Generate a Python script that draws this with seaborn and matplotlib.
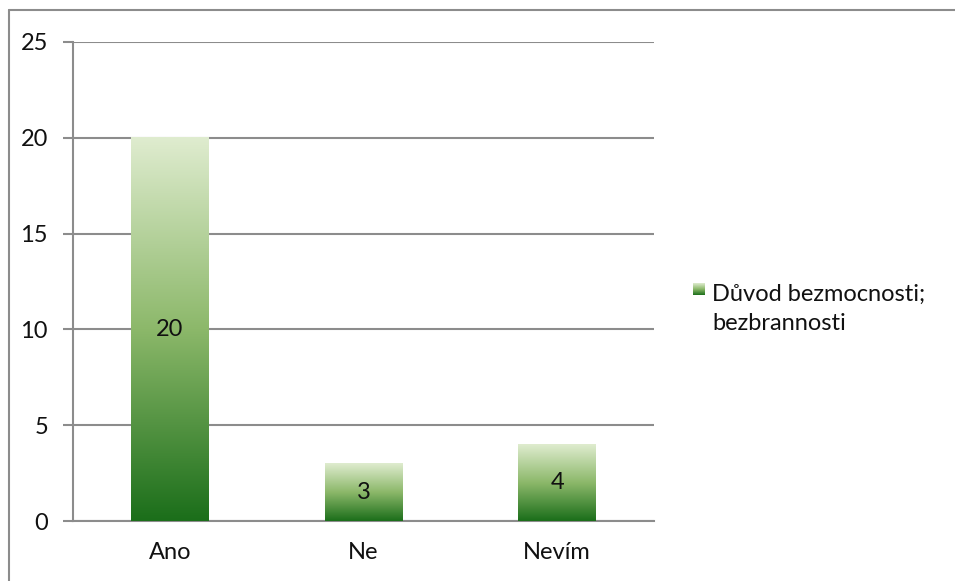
import numpy as np
import pandas as pd
import matplotlib
matplotlib.use("Agg")
import matplotlib.pyplot as plt
import seaborn as sns
from matplotlib.colors import LinearSegmentedColormap
from matplotlib.lines import Line2D

categories = ["Ano", "Ne", "Nevím"]
values = [20, 3, 4]
series_name = "Důvod bezmocnosti;\nbezbrannosti"
yticks = [0, 5, 10, 15, 20, 25]

sns.set_theme(style="white")
plt.rcParams['font.family'] = ['Lato', 'DejaVu Sans']

FS = 17
W, H = 955, 581
fig = plt.figure(figsize=(W / 100, H / 100), dpi=100)
ax = fig.add_axes([73 / W, 1 - 521 / H, (654 - 73) / W, (521 - 42) / H])

df = pd.DataFrame({"cat": categories, "val": values})
sns.barplot(data=df, x="cat", y="val", ax=ax, width=0.4, color="#4a8a3a")

cmap = LinearSegmentedColormap.from_list(
    "g", [(0.0, "#1b6e1a"), (0.5, "#8cb86a"), (1.0, "#dfeccf")])
grad = np.linspace(0, 1, 256).reshape(-1, 1)

ax.set_ylim(0, 25)
ax.set_xlim(-0.5, 2.5)
for p in ax.patches:
    x0, y0 = p.get_x(), p.get_y()
    w, h = p.get_width(), p.get_height()
    p.set_visible(False)
    ax.imshow(grad, cmap=cmap, origin="lower", aspect="auto",
              extent=[x0, x0 + w, y0, y0 + h], zorder=3, interpolation="bilinear")
    ax.text(x0 + w / 2, h / 2, f"{int(h)}", ha="center", va="center",
            fontsize=FS, color="#111111", zorder=4)
ax.set_ylim(0, 25)
ax.set_xlim(-0.5, 2.5)

gc = "#8c8c8c"
ax.set_yticks(yticks)
ax.set_yticklabels([str(t) for t in yticks], fontsize=FS, color="#111111")
ax.yaxis.grid(True, color=gc, linewidth=1.5, zorder=0)
ax.set_axisbelow(True)
ax.set_xticks(range(len(categories)))
ax.set_xticklabels(categories, fontsize=FS, color="#111111")
ax.set_xticks([-0.5, 0.5, 1.5, 2.5], minor=True)
ax.tick_params(axis="x", which="major", length=0, pad=15)
ax.tick_params(axis="x", which="minor", length=7, width=1.5, color=gc, direction="out")
ax.tick_params(axis="y", which="major", length=7, width=1.5, color=gc, direction="out", pad=11, left=True)
ax.set_xlabel("")
ax.set_ylabel("")
for s in ["top", "right"]:
    ax.spines[s].set_visible(False)
for s in ["left", "bottom"]:
    ax.spines[s].set_visible(True)
    ax.spines[s].set_color(gc)
    ax.spines[s].set_linewidth(1.5)

# legend
lax = fig.add_axes([693 / W, 1 - 295 / H, 12 / W, 12 / H])
lax.imshow(grad, cmap=cmap, origin="lower", aspect="auto", interpolation="bilinear")
lax.axis("off")
fig.text(712 / W, 1 - 284 / H, series_name, fontsize=FS, color="#111111",
         va="top", ha="left", linespacing=1.45, transform=fig.transFigure)

# outer border (top & left)
fig.add_artist(Line2D([9 / W, 9 / W], [0, 1 - 10 / H], transform=fig.transFigure, color=gc, lw=1.5))
fig.add_artist(Line2D([9 / W, 1], [1 - 10 / H, 1 - 10 / H], transform=fig.transFigure, color=gc, lw=1.5))

fig.savefig("out.png", dpi=100)
